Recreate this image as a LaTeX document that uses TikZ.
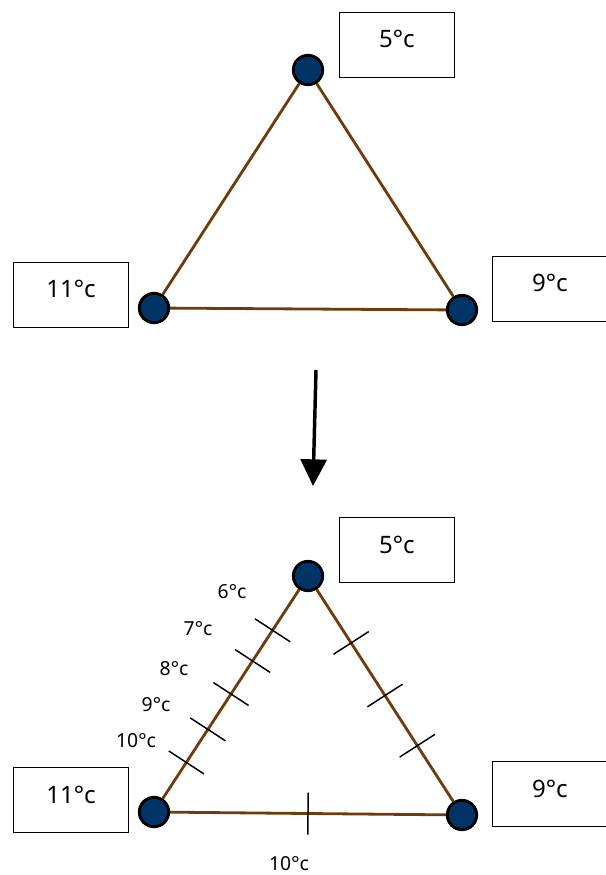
\documentclass[tikz,border=0pt]{standalone}
\usepackage{fontspec}
\setmainfont{Noto Sans}
\usepackage{tikz}
\usetikzlibrary{arrows.meta,calc}
\definecolor{edgebrown}{RGB}{110,60,12}
\definecolor{vertblue}{RGB}{0,51,102}
\newcommand{\tickrule}{\rule{1.1pt}{31.5pt}}

\begin{document}
\begin{tikzpicture}[x=0.75pt,y=-0.75pt,
  vert/.style={circle,draw=black,line width=2.2pt,fill=vertblue,
    minimum size=22pt,inner sep=0pt},
  edge/.style={edgebrown,line width=2.1pt},
  tempbox/.style={draw=black,line width=1.1pt,minimum width=86pt,
    minimum height=48.5pt,inner sep=0pt},
  bigtemp/.style={inner sep=0pt,font=\fontsize{18}{20}\selectfont},
  smalltemp/.style={inner sep=0pt,font=\fontsize{14.5}{16}\selectfont},
  tick/.style={sloped,inner sep=0pt,anchor=center}]
\useasboundingbox (0,0) rectangle (606,875);

% before
\node[vert] (a1) at (308,70)  {};
\node[vert] (b1) at (154,308) {};
\node[vert] (c1) at (462,310) {};
\draw[edge] (a1)--(b1);
\draw[edge] (b1)--(c1);
\draw[edge] (c1)--(a1);
\node[tempbox] (boxa1) at (397,45)  {};
\node[tempbox] (boxb1) at (71,295)  {};
\node[tempbox] (boxc1) at (550,289) {};
\node[bigtemp] (ta1) at (397,39)  {5°c};
\node[bigtemp] (tb1) at (71,289)  {11°c};
\node[bigtemp] (tc1) at (550,283) {9°c};

% arrow
\coordinate (arrtop) at (316,370);
\coordinate (arrtip) at (313,486);
\draw[line width=2.6pt,-{Triangle[length=20pt,width=19.5pt]}] (arrtop)--(arrtip);

% after
\node[vert] (a2) at (308,576) {};
\node[vert] (b2) at (154,812) {};
\node[vert] (c2) at (462,815) {};
\draw[edge] (a2)--(b2);
\draw[edge] (b2)--(c2);
\draw[edge] (c2)--(a2);
\node[tempbox] (boxa2) at (397,550) {};
\node[tempbox] (boxb2) at (71,800)  {};
\node[tempbox] (boxc2) at (550,794) {};
\node[bigtemp] (ta2) at (397,545) {5°c};
\node[bigtemp] (tb2) at (71,795)  {11°c};
\node[bigtemp] (tc2) at (550,789) {9°c};

% ticks
\path (b2.center)--(a2.center)
  node[tick,pos=0.21]{\tickrule} node[tick,pos=0.35]{\tickrule}
  node[tick,pos=0.5]{\tickrule}  node[tick,pos=0.64]{\tickrule}
  node[tick,pos=0.77]{\tickrule};
\path (a2.center)--(c2.center)
  node[tick,pos=0.28]{\tickrule} node[tick,pos=0.5]{\tickrule}
  node[tick,pos=0.71]{\tickrule};
\path (b2.center)--(c2.center)
  node[tick,pos=0.5]{\tickrule};
\node[smalltemp] (l6)  at (232,592) {6°c};
\node[smalltemp] (l7)  at (198,629) {7°c};
\node[smalltemp] (l8)  at (174,669) {8°c};
\node[smalltemp] (l9)  at (156,705) {9°c};
\node[smalltemp] (l10) at (136,741) {10°c};
\node[smalltemp] (lb)  at (289,864) {10°c};
\end{tikzpicture}
\end{document}
